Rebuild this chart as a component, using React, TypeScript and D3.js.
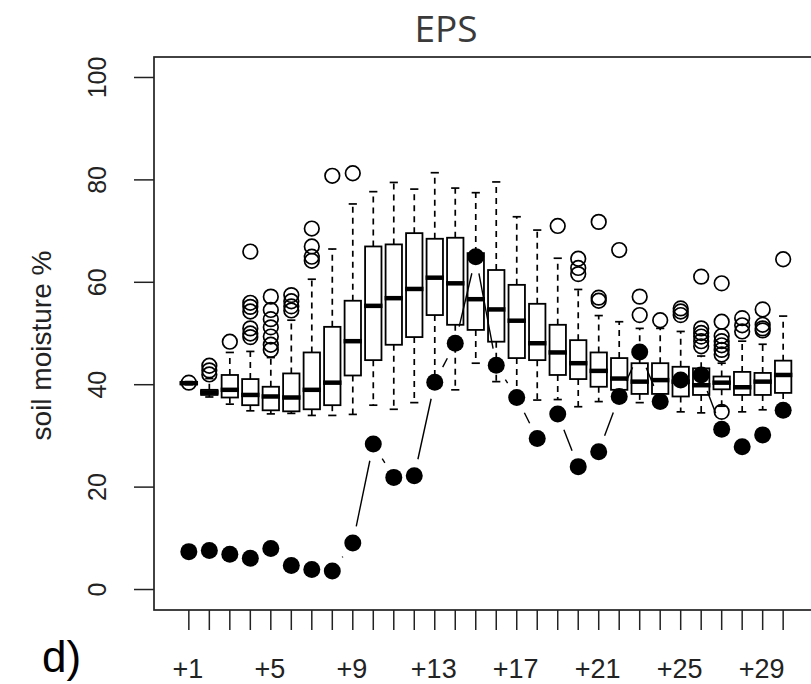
import React, { useRef, useEffect } from "react";
import * as d3 from "d3";

// day labels along the x axis (R drops the overlapping ones, so only every 4th shows)
const dayLabels = [
  "+1", "+2", "+3", "+4", "+5", "+6", "+7", "+8", "+9", "+10",
  "+11", "+12", "+13", "+14", "+15", "+16", "+17", "+18", "+19", "+20",
  "+21", "+22", "+23", "+24", "+25", "+26", "+27", "+28", "+29", "+30",
];
const shownLabels = ["+1", "+5", "+9", "+13", "+17", "+21", "+25", "+29"];

// ensemble box statistics per day (soil moisture %)
const lowerWhisker = [40.0, 37.6, 36.2, 34.9, 34.3, 34.4, 34.0, 34.0, 34.2, 36.0, 35.2, 36.5, 41.0, 39.0, 44.2, 40.6, 38.4, 37.0, 37.1, 35.7, 36.7, 37.0, 36.5, 36.0, 34.7, 34.5, 35.8, 34.7, 35.1, 35.0];
const q1 = [40.1, 38.0, 37.5, 36.0, 35.0, 34.8, 35.2, 36.0, 41.8, 44.8, 47.8, 49.3, 53.6, 51.7, 50.7, 48.4, 45.2, 44.8, 41.9, 41.1, 39.6, 39.0, 38.2, 38.2, 37.7, 38.0, 39.1, 38.0, 38.0, 38.4];
const medians = [40.3, 38.5, 39.0, 38.0, 37.7, 37.5, 39.0, 40.4, 48.5, 55.4, 56.9, 58.7, 60.9, 59.8, 56.7, 54.7, 52.5, 48.1, 46.3, 44.2, 42.7, 41.2, 40.6, 40.9, 40.6, 39.9, 40.4, 39.5, 40.6, 41.9];
const q3 = [40.5, 39.0, 41.9, 41.1, 39.6, 42.2, 46.3, 51.3, 56.4, 67.0, 67.4, 69.6, 68.5, 68.7, 65.7, 62.4, 59.5, 55.8, 51.7, 48.7, 46.3, 45.2, 44.2, 44.2, 43.5, 43.2, 41.6, 42.5, 42.3, 44.7];
const upperWhisker = [40.6, 41.2, 46.3, 46.5, 45.3, 52.6, 60.6, 66.5, 75.3, 77.7, 79.5, 78.2, 81.4, 78.4, 77.5, 79.6, 72.8, 70.2, 64.7, 58.6, 53.5, 52.3, 51.0, 51.0, 50.4, 45.6, 44.2, 48.5, 47.9, 53.4];
const outliers = [
  [40.4],
  [43.7, 42.8, 42.0],
  [48.4],
  [66.0, 56.0, 55.2, 54.3, 51.0, 50.0, 49.3],
  [57.2, 54.6, 52.8, 51.2, 49.4, 47.8, 46.8],
  [57.5, 56.3, 55.3, 54.5],
  [70.5, 67.0, 65.0, 64.2],
  [80.8],
  [81.3],
  [], [], [], [], [], [], [], [], [],
  [71.0],
  [64.6, 62.8, 61.6],
  [71.8, 57.0, 56.4],
  [66.3],
  [57.2, 53.6],
  [52.6],
  [54.9, 54.3, 53.6],
  [61.1, 51.0, 50.1, 49.4, 48.5, 47.5],
  [59.8, 52.3, 49.5, 48.5, 47.7, 46.8, 45.9, 34.7],
  [53.0, 51.6, 50.4],
  [54.7, 51.7, 51.0, 50.6],
  [64.5],
];

// observed values (filled dots)
const observed = [7.4, 7.6, 6.9, 6.1, 8.0, 4.7, 3.9, 3.6, 9.1, 28.4, 21.9, 22.2, 40.5, 48.1, 65.0, 43.8, 37.5, 29.5, 34.3, 24.0, 26.9, 37.7, 46.4, 36.7, 40.9, 41.9, 31.3, 27.9, 30.2, 35.0];

const yTicks = [0, 20, 40, 60, 80, 100];

function BoxChart() {
  const svgRef = useRef(null);
  const width = 811;
  const height = 684;
  const plot = { left: 154, right: 818, top: 57, bottom: 610 };

  useEffect(() => {
    const svg = d3.select(svgRef.current);
    svg.selectAll("*").remove();

    // R style: xlim 0.5..30.5 and ylim 0..100, each widened by 4%
    const x = d3
      .scaleLinear()
      .domain([-0.7, dayLabels.length + 1.7])
      .range([plot.left, plot.right]);
    const y = d3.scaleLinear().domain([-4, 104]).range([plot.bottom, plot.top]);

    const step = x(2) - x(1);
    const boxW = step * 0.8;
    const stapleW = boxW * 0.5;
    const axisFont = "'Liberation Sans', Arial, sans-serif";

    const g = svg.append("g");

    // boxes
    dayLabels.forEach((lab, i) => {
      const cx = x(i + 1);
      const bg = g.append("g");
      // whiskers
      [
        [q3[i], upperWhisker[i]],
        [q1[i], lowerWhisker[i]],
      ].forEach(([a, b]) => {
        bg.append("line")
          .attr("x1", cx).attr("x2", cx)
          .attr("y1", y(a)).attr("y2", y(b))
          .attr("stroke", "#000")
          .attr("stroke-width", 1.7)
          .attr("stroke-dasharray", "6 5");
        bg.append("line")
          .attr("x1", cx - stapleW / 2).attr("x2", cx + stapleW / 2)
          .attr("y1", y(b)).attr("y2", y(b))
          .attr("stroke", "#000")
          .attr("stroke-width", 1.7);
      });
      bg.append("rect")
        .attr("x", cx - boxW / 2)
        .attr("y", y(q3[i]))
        .attr("width", boxW)
        .attr("height", Math.max(0.5, y(q1[i]) - y(q3[i])))
        .attr("fill", "none")
        .attr("stroke", "#000")
        .attr("stroke-width", 1.8);
      bg.append("line")
        .attr("x1", cx - boxW / 2 - 1).attr("x2", cx + boxW / 2 + 1)
        .attr("y1", y(medians[i])).attr("y2", y(medians[i]))
        .attr("stroke", "#000")
        .attr("stroke-width", 4.5);
      bg.selectAll("circle.out")
        .data(outliers[i])
        .enter()
        .append("circle")
        .attr("class", "out")
        .attr("cx", cx)
        .attr("cy", (d) => y(d))
        .attr("r", 7.3)
        .attr("fill", "none")
        .attr("stroke", "#000")
        .attr("stroke-width", 1.7);
    });

    // observed: type = "b" (segments with gaps round the points)
    const gap = 17;
    observed.forEach((v, i) => {
      if (i === 0) return;
      const x0 = x(i), y0 = y(observed[i - 1]);
      const x1 = x(i + 1), y1 = y(v);
      const dist = Math.hypot(x1 - x0, y1 - y0);
      if (dist <= gap * 2) return;
      const ux = (x1 - x0) / dist, uy = (y1 - y0) / dist;
      g.append("line")
        .attr("x1", x0 + ux * gap).attr("y1", y0 + uy * gap)
        .attr("x2", x1 - ux * gap).attr("y2", y1 - uy * gap)
        .attr("stroke", "#000")
        .attr("stroke-width", 1.4);
    });
    g.selectAll("circle.obs")
      .data(observed)
      .enter()
      .append("circle")
      .attr("class", "obs")
      .attr("cx", (d, i) => x(i + 1))
      .attr("cy", (d) => y(d))
      .attr("r", 8.5)
      .attr("fill", "#000");

    // frame
    svg.append("rect")
      .attr("x", plot.left)
      .attr("y", plot.top)
      .attr("width", plot.right - plot.left)
      .attr("height", plot.bottom - plot.top)
      .attr("fill", "none")
      .attr("stroke", "#222")
      .attr("stroke-width", 1.7);

    // y axis
    const ya = svg.append("g");
    yTicks.forEach((t) => {
      ya.append("line")
        .attr("x1", plot.left - 20).attr("x2", plot.left)
        .attr("y1", y(t)).attr("y2", y(t))
        .attr("stroke", "#222").attr("stroke-width", 1.5);
      ya.append("text")
        .attr("transform", `translate(106,${y(t)}) rotate(-90)`)
        .attr("text-anchor", "middle")
        .attr("font-family", axisFont)
        .attr("font-size", 25)
        .attr("fill", "#222")
        .text(t);
    });
    svg.append("text")
      .attr("transform", `translate(51,${(y(0) + y(100)) / 2 + 12}) rotate(-90)`)
      .attr("text-anchor", "middle")
      .attr("font-family", axisFont)
      .attr("font-size", 28)
      .attr("fill", "#222")
      .text("soil moisture %");

    // x axis
    const xa = svg.append("g");
    dayLabels.forEach((lab, i) => {
      xa.append("line")
        .attr("x1", x(i + 1)).attr("x2", x(i + 1))
        .attr("y1", plot.bottom).attr("y2", plot.bottom + 20)
        .attr("stroke", "#222").attr("stroke-width", 1.5);
      if (shownLabels.includes(lab)) {
        xa.append("text")
          .attr("x", x(i + 1) - 1)
          .attr("y", 678)
          .attr("text-anchor", "middle")
          .attr("font-family", axisFont)
          .attr("font-size", 27)
          .attr("fill", "#222")
          .text(lab);
      }
    });

    // title and panel letter
    svg.append("text")
      .attr("x", 446)
      .attr("y", 42)
      .attr("text-anchor", "middle")
      .attr("font-family", "'Open Sans', sans-serif")
      .attr("font-size", 37)
      .attr("fill", "#3a3a3a")
      .text("EPS");
    svg.append("text")
      .attr("x", 42)
      .attr("y", 672)
      .attr("font-family", axisFont)
      .attr("font-size", 44)
      .attr("fill", "#000")
      .text("d)");
  }, []);

  return (
    <svg
      ref={svgRef}
      width={width}
      height={height}
      style={{ position: "absolute", left: 0, top: 0, background: "#fff" }}
    />
  );
}

export default function App() {
  return <BoxChart />;
}
